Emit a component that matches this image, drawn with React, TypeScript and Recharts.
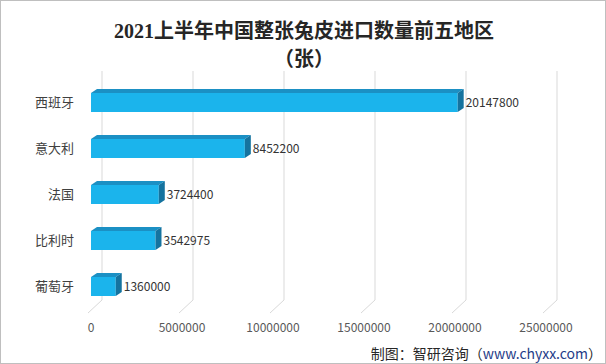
import { BarChart, Bar, XAxis, YAxis, CartesianGrid, LabelList } from 'recharts';

const regions = ['西班牙', '意大利', '法国', '比利时', '葡萄牙'];
const amounts = [20147800, 8452200, 3724400, 3542975, 1360000];
const xTicks = [0, 5000000, 10000000, 15000000, 20000000, 25000000];

const data = regions.map((name, i) => ({ name, value: amounts[i] }));

// 3D-ish bar: front face + top face + right side
const Bar3D = (props: any) => {
    const { x, y, width, height } = props;
    if (!width || width <= 0) return null;
    const d = 6, dy = 4;
    return (
        <g>
            <rect x={x} y={y} width={width} height={height} fill="#1bb4ec" />
            <polygon points={`${x},${y} ${x + d},${y - dy} ${x + width + d},${y - dy} ${x + width},${y}`} fill="#1b90c4" />
            <polygon points={`${x + width},${y} ${x + width + d},${y - dy} ${x + width + d},${y + height - dy} ${x + width},${y + height}`} fill="#15739f" />
        </g>
    );
};

// back-wall gridline with a little floor diagonal
const GridLine3D = (props: any) => {
    const { x1, y1, y2 } = props;
    return (
        <polyline
            key={props.key}
            points={`${x1 + 11},${y1 - 8} ${x1 + 11},${y2 - 9} ${x1 - 3},${y2 + 4}`}
            fill="none"
            stroke="#d9d9d9"
            strokeWidth={1}
        />
    );
};

export default function App() {
    return (
        <div style={{ position: 'absolute', left: 0, top: 0, width: 606, height: 364, boxSizing: 'border-box', border: '1px solid #bfbfbf', background: '#fff', fontFamily: '"Noto Sans CJK SC", sans-serif' }}>
            <div style={{ position: 'absolute', top: 16, left: 0, width: 606, textAlign: 'center', fontFamily: '"Liberation Serif", "Noto Sans CJK SC", serif', fontWeight: 'bold', fontSize: 20, lineHeight: '28px', color: '#262626' }}>
                2021上半年中国整张兔皮进口数量前五地区<br />（张）
            </div>
            <BarChart
                width={604}
                height={362}
                data={data}
                layout="vertical"
                margin={{ top: 78, right: 59, bottom: 24, left: 0 }}
                barCategoryGap={27}
            >
                <CartesianGrid horizontal={false} vertical={GridLine3D} />
                <XAxis
                    type="number"
                    domain={[0, 25000000]}
                    ticks={xTicks}
                    axisLine={false}
                    tickLine={false}
                    tickMargin={8}
                    tick={{ fontSize: 12, fill: '#595959', fontFamily: '"Noto Sans CJK SC", sans-serif' }}
                    interval={0}
                />
                <YAxis
                    type="category"
                    dataKey="name"
                    width={90}
                    axisLine={false}
                    tickLine={false}
                    tickMargin={11}
                    tick={{ fontSize: 13, fill: '#404040', fontFamily: '"Noto Sans CJK SC", sans-serif' }}
                />
                <Bar dataKey="value" barSize={19} shape={Bar3D} isAnimationActive={false}>
                    <LabelList dataKey="value" position="right" offset={8} style={{ fontSize: 12, fill: '#333', fontFamily: '"Noto Sans CJK SC", sans-serif' }} />
                </Bar>
            </BarChart>
            <div style={{ position: 'absolute', right: 3, top: 342, fontSize: 14, color: '#262626', whiteSpace: 'nowrap' }}>
                制图：智研咨询（<span style={{ color: '#1f3c88' }}>www.chyxx.com</span>）
            </div>
        </div>
    );
}
